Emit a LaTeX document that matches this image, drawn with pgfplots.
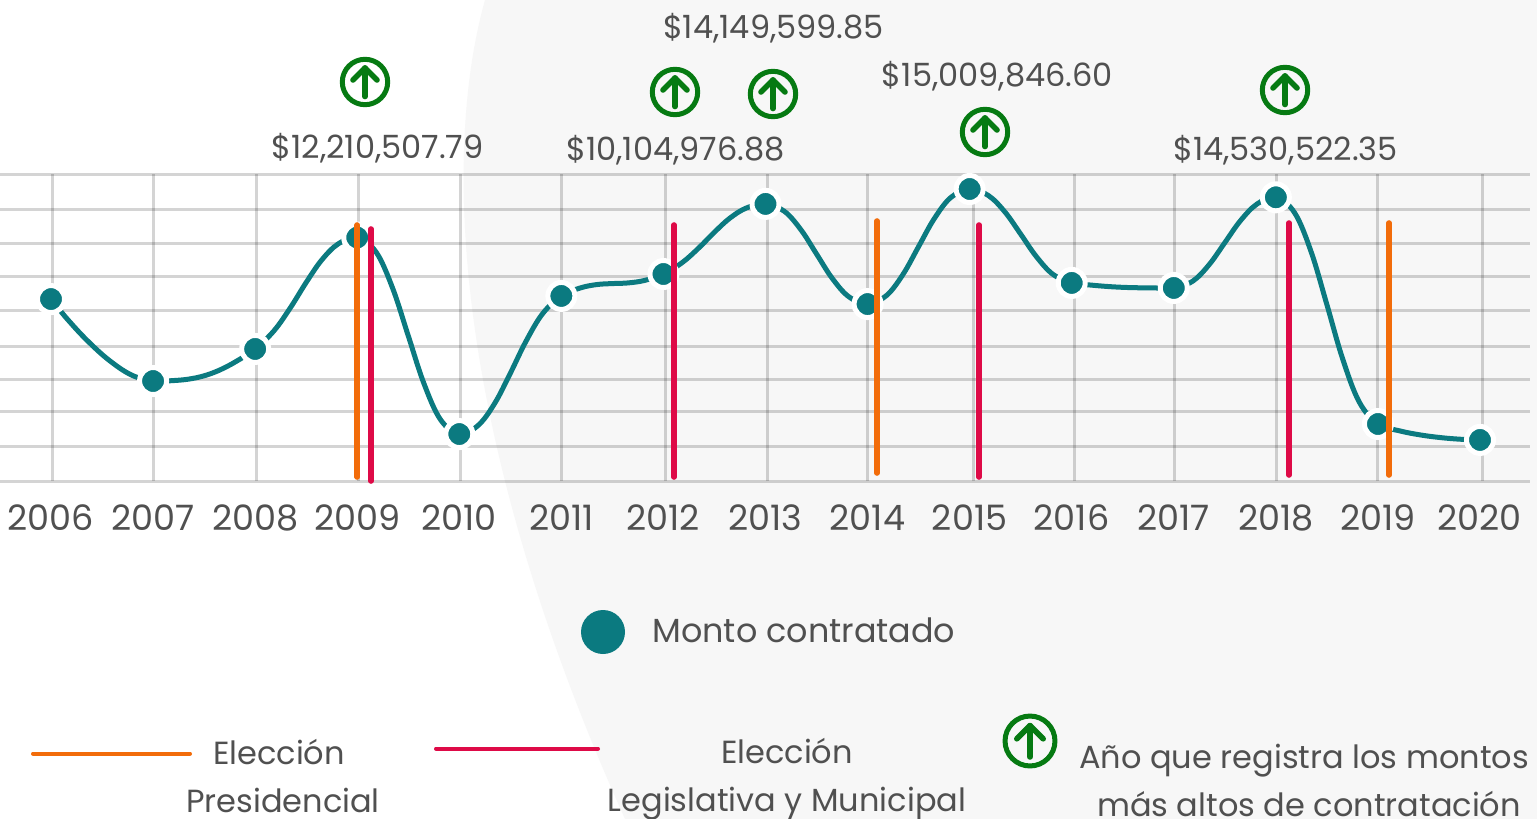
\documentclass[border=0pt]{standalone}
\usepackage{pgfplots}
\usepackage{fontspec}
\setmainfont{Poppins}
\pgfplotsset{compat=1.18}
\definecolor{teal0}{HTML}{0B7A80}
\definecolor{org}{HTML}{F26C0A}
\definecolor{crim}{HTML}{DE0A47}
\definecolor{grn}{HTML}{067A12}
\definecolor{txt}{HTML}{505050}
\definecolor{bgg}{HTML}{F7F7F7}
\newcommand{\upicon}[3]{% x,y,scale
  \begin{scope}[shift={(#1,#2)},scale=#3,line cap=round,line join=round,draw=grn,line width=2.5pt]
    \draw (0,0) circle (22.7);
    \draw[line width=2.8pt] (0,14.5) -- (0,-14);
    \draw[line width=2.8pt] (-12,-2) -- (0,-14) -- (12,-2);
  \end{scope}}
\tikzset{px/.style={x=0.5pt,y=-0.5pt}}
\begin{document}
\begin{tikzpicture}
\useasboundingbox (0pt,0pt) rectangle (768.5pt,-409.5pt);
\begin{scope}[px]
\fill[white] (0,0) rectangle (1537,819);
\fill[bgg] (485,0) .. controls (443,150) and (450,430) .. (625,819) -- (1537,819) -- (1537,0) -- cycle;
\end{scope}
\begin{axis}[
  at={(0pt,-240.5pt)},anchor=south west,
  width=765pt,height=153.5pt,scale only axis,clip=false,
  clip marker paths=true,
  xmin=2005.5003,xmax=2020.4899,
  ymin=-1839722,ymax=15875407,
  axis line style={draw=none},
  xtick={2006,...,2020},
  xticklabels={2006,2007,2008,2009,2010,2011,2012,2013,2014,2015,2016,2017,2018,2019,2020},
  ytick={15875407,13855767,11893831,9989599,8027663,5950319,4046087,2199559,179919,-1839722},
  yticklabels={},
  scaled y ticks=false,
  ymajorgrids,
  minor xtick={2006.0098,2007,2008.018,2009.012,2010.007,2011,2012.025,2013.015,2014.004,2015.033,2016.023,2017.002,2018.002,2018.991,2020.02},
  xminorgrids,
  minor x grid style={black,opacity=0.17,line width=1.5pt},
  y grid style={black,opacity=0.17,line width=1.5pt},
  major tick length=0pt,minor tick length=0pt,
  xticklabel style={font=\fontsize{17.5}{20}\selectfont,text=txt,yshift=-8.3pt},
  /pgf/number format/assume math mode=true,
]
% the drawn curve, with points read between the yearly values
\addplot[smooth,tension=0.6,color=teal0,line width=2.5pt,no marks] coordinates {
 (2006,8660000)(2006.046,8310000)(2006.170,7434000)(2006.350,6295000)(2006.563,5156000)(2006.787,4280000)
 (2007,3930000)(2007.185,3951000)(2007.348,4039000)(2007.5,4231000)(2007.652,4561000)(2007.815,5065000)
 (2008,5780000)(2008.185,6832000)(2008.348,8184000)(2008.5,9618000)(2008.652,10911000)(2008.815,11849000)
 (2009,12210507.79)(2009.185,11370000)(2009.348,9270000)(2009.5,6540000)(2009.652,3811000)(2009.815,1711000)
 (2010,870000)(2010.185,1372000)(2010.348,2652000)(2010.5,4377000)(2010.652,6207000)(2010.815,7807000)
 (2011,8840000)(2011.185,9299000)(2011.348,9496000)(2011.5,9553000)(2011.652,9590000)(2011.815,9734000)
 (2012,10104976.88)(2012.185,10768000)(2012.348,11619000)(2012.5,12521000)(2012.652,13334000)(2012.815,13921000)
 (2013,14149599.85)(2013.185,13722000)(2013.348,12651000)(2013.5,11260000)(2013.652,9869000)(2013.815,8798000)
 (2014,8370000)(2014.185,8862000)(2014.348,10092000)(2014.5,11690000)(2014.652,13288000)(2014.815,14518000)
 (2015,15009846.60)(2015.185,14627000)(2015.348,13667000)(2015.5,12407000)(2015.652,11121000)(2015.815,10089000)
 (2016,9590000)(2016.185,9468000)(2016.348,9386000)(2016.5,9336000)(2016.652,9311000)(2016.815,9301000)
 (2017,9300000)(2017.185,9688000)(2017.348,10656000)(2017.5,11915000)(2017.652,13174000)(2017.815,14142000)
 (2018,14530522.35)(2018.185,13625000)(2018.348,11343000)(2018.5,8336000)(2018.652,5251000)(2018.815,2738000)
 (2019,1450000)(2019.207,1062000)(2019.432,803000)(2019.646,645000)(2019.826,564000)(2019.953,534000)
 (2020,530000)};
\addplot[only marks,mark=*,mark size=6.75pt,
  mark options={draw=white,fill=teal0,line width=2.5pt,solid}] coordinates {
 (2006,8660000)(2007,3930000)(2008,5780000)(2009,12210507.79)(2010,870000)
 (2011,8840000)(2012,10104976.88)(2013,14149599.85)(2014,8370000)(2015,15009846.60)
 (2016,9590000)(2017,9300000)(2018,14530522.35)(2019,1450000)(2020,530000)};
\addplot[org,line width=2.8pt,line cap=round] coordinates {(2009,12932503)(2009,-1608905)};
\addplot[crim,line width=2.8pt,line cap=round] coordinates {(2009.135,12701687)(2009.135,-1839722)};
\addplot[crim,line width=2.8pt,line cap=round] coordinates {(2012.104,12932503)(2012.104,-1608905)};
\addplot[org,line width=2.8pt,line cap=round] coordinates {(2014.093,13163319)(2014.093,-1378089)};
\addplot[crim,line width=2.8pt,line cap=round] coordinates {(2015.092,12932503)(2015.092,-1608905)};
\addplot[crim,line width=2.8pt,line cap=round] coordinates {(2018.129,13047911)(2018.129,-1493497)};
\addplot[org,line width=2.8pt,line cap=round] coordinates {(2019.109,13047911)(2019.109,-1493497)};
\end{axis}
\begin{scope}[px]
\begin{scope}[every node/.style={text=txt,font=\fontsize{16}{19}\selectfont,inner sep=0pt,anchor=center}]
\node at (377.5,148) {\$12,210,507.79};
\node at (675.5,150) {\$10,104,976.88};
\node at (773.5,28) {\$14,149,599.85};
\node at (997.5,76) {\$15,009,846.60};
\node at (1285.5,150) {\$14,530,522.35};
\end{scope}
\upicon{365}{82}{1}
\upicon{675}{92}{1}
\upicon{773}{94}{1}
\upicon{985}{132}{1}
\upicon{1285}{90}{1}
\upicon{1030}{741}{1.1}
\fill[teal0] (603,632) circle (22);
\draw[org,line width=2pt,line cap=round] (33,753.5) -- (190,753.5);
\draw[crim,line width=2pt,line cap=round] (436,748.5) -- (598,748.5);
\begin{scope}[every node/.style={text=txt,font=\fontsize{16}{19}\selectfont,inner sep=0pt,anchor=center}]
\node[font=\fontsize{16.7}{20}\selectfont,anchor=west] at (652,630.5) {Monto contratado};
\node at (279,752) {Elección};
\node at (283,800) {Presidencial};
\node at (787,751) {Elección};
\node at (787,804) {Legislativa y Municipal};
\node at (1304,761) {Año que registra los montos};
\node at (1309,804) {más altos de contratación};
\end{scope}
\end{scope}
\end{tikzpicture}
\end{document}
